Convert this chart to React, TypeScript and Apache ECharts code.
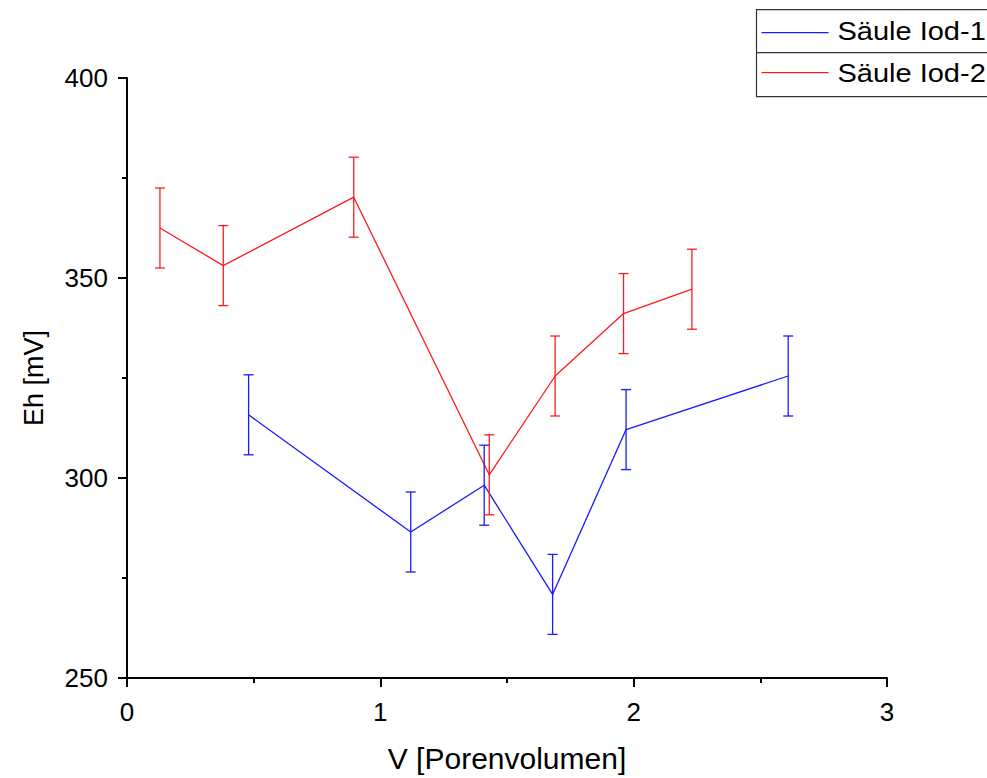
import React, { useEffect, useRef } from "react";
import * as echarts from "echarts";

const FONT = "'Liberation Sans', Arial, sans-serif";

const series1Name = "Säule Iod-1";
const series2Name = "Säule Iod-2";

const xIod1 = [0.48, 1.12, 1.41, 1.68, 1.97, 2.61];
const yIod1 = [315.8, 286.5, 298.2, 270.9, 312.1, 325.5];
const errIod1 = [10, 10, 10, 10, 10, 10];

const xIod2 = [0.13, 0.38, 0.895, 1.43, 1.69, 1.96, 2.23];
const yIod2 = [362.5, 353.1, 370.2, 300.8, 325.5, 341.1, 347.2];
const errIod2 = [10, 10, 10, 10, 10, 10, 10];

const xAxisName = "V [Porenvolumen]";
const yAxisName = "Eh [mV]";

const BLUE = "#1a1aff";
const RED = "#ff1a1a";

function errorSeries(xs: number[], ys: number[], es: number[], color: string) {
  return {
    type: "custom",
    silent: true,
    z: 3,
    data: xs.map((x, i) => [x, ys[i] - es[i], ys[i] + es[i]]),
    renderItem: (params: any, api: any) => {
      const lo = api.coord([api.value(0), api.value(1)]);
      const hi = api.coord([api.value(0), api.value(2)]);
      const hw = 5;
      const st = { stroke: color, lineWidth: 1.3 };
      return {
        type: "group",
        children: [
          { type: "line", shape: { x1: lo[0], y1: lo[1], x2: hi[0], y2: hi[1] }, style: st },
          { type: "line", shape: { x1: lo[0] - hw, y1: lo[1], x2: lo[0] + hw, y2: lo[1] }, style: st },
          { type: "line", shape: { x1: hi[0] - hw, y1: hi[1], x2: hi[0] + hw, y2: hi[1] }, style: st },
        ],
      };
    },
  };
}

export default function App() {
  const ref = useRef<HTMLDivElement>(null);
  useEffect(() => {
    if (!ref.current) return;
    const chart = echarts.init(ref.current, null, { renderer: "svg" });
    const axisCommon = {
      axisLine: { show: true, lineStyle: { color: "#000", width: 2 } },
      axisTick: { show: true, inside: false, length: 9, lineStyle: { color: "#000", width: 2 } },
      minorTick: { show: true, splitNumber: 2, length: 5, lineStyle: { color: "#000", width: 2 } },
      splitLine: { show: false },
      minorSplitLine: { show: false },
      axisLabel: { color: "#000", fontSize: 26, fontFamily: FONT },
    };
    chart.setOption({
      animation: false,
      backgroundColor: "#fff",
      grid: { left: 127, top: 78, right: 100, bottom: 97, containLabel: false },
      xAxis: {
        type: "value",
        min: 0,
        max: 3,
        interval: 1,
        name: xAxisName,
        nameLocation: "middle",
        nameGap: 65,
        nameTextStyle: { color: "#000", fontSize: 30, fontFamily: FONT },
        ...axisCommon,
        axisLabel: { ...axisCommon.axisLabel, margin: 21 },
      },
      yAxis: {
        type: "value",
        min: 250,
        max: 400,
        interval: 50,
        name: yAxisName,
        nameLocation: "middle",
        nameGap: 80,
        nameTextStyle: { color: "#000", fontSize: 27, fontFamily: FONT },
        ...axisCommon,
        axisLabel: { ...axisCommon.axisLabel, margin: 19 },
      },
      series: [
        {
          type: "line",
          name: series1Name,
          data: xIod1.map((x, i) => [x, yIod1[i]]),
          symbol: "none",
          lineStyle: { color: BLUE, width: 1.3 },
          z: 2,
        },
        {
          type: "line",
          name: series2Name,
          data: xIod2.map((x, i) => [x, yIod2[i]]),
          symbol: "none",
          lineStyle: { color: RED, width: 1.3 },
          z: 2,
        },
        errorSeries(xIod1, yIod1, errIod1, BLUE),
        errorSeries(xIod2, yIod2, errIod2, RED),
      ],
      graphic: [
        {
          type: "group",
          left: 754,
          top: 9,
          children: [
            { type: "rect", shape: { x: 0, y: 0, width: 250, height: 87 }, style: { fill: "#fff", stroke: "#333", lineWidth: 1.2 } },
            { type: "line", shape: { x1: 0, y1: 43, x2: 250, y2: 43 }, style: { stroke: "#333", lineWidth: 1.2 } },
            { type: "line", shape: { x1: 5, y1: 23, x2: 72, y2: 23 }, style: { stroke: BLUE, lineWidth: 1.3 } },
            { type: "line", shape: { x1: 5, y1: 63, x2: 72, y2: 63 }, style: { stroke: RED, lineWidth: 1.3 } },
            { type: "text", x: 81, y: 22, scaleX: 1.16, style: { text: series1Name, fill: "#000", font: `25px ${FONT}`, verticalAlign: "middle" } },
            { type: "text", x: 81, y: 64, scaleX: 1.16, style: { text: series2Name, fill: "#000", font: `25px ${FONT}`, verticalAlign: "middle" } },
          ],
        },
      ],
    });
    return () => chart.dispose();
  }, []);
  return <div ref={ref} style={{ width: 987, height: 778, position: "absolute", left: 0, top: 0 }} />;
}
